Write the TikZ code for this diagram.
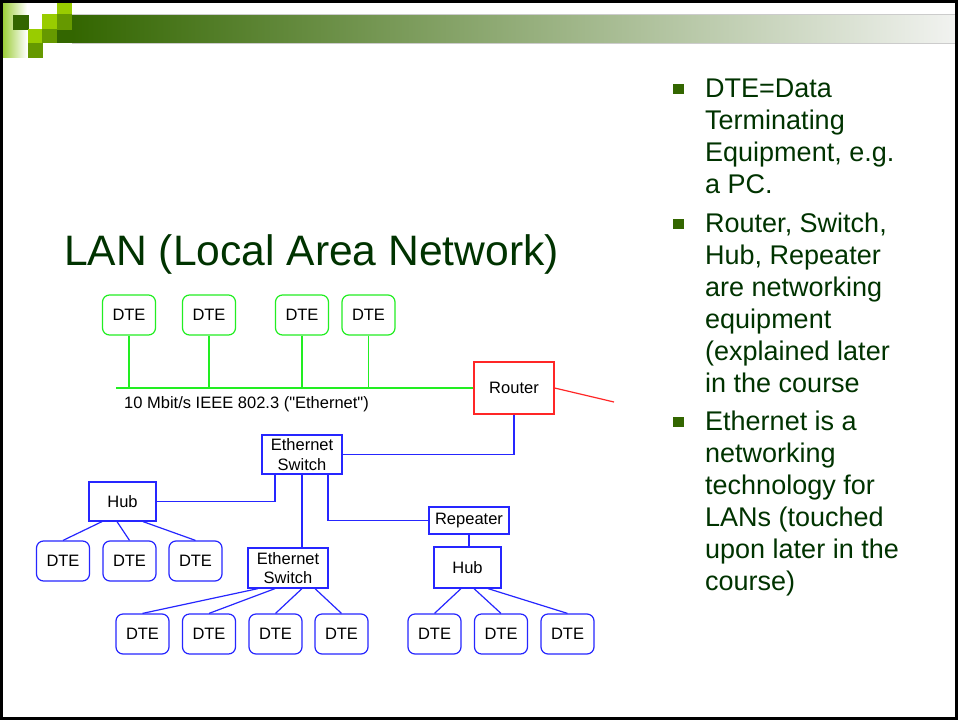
\documentclass[tikz,border=0pt]{standalone}
\usepackage{fontspec}
\setmainfont{Liberation Sans}
\newfontfamily\labfont{Liberation Sans}
\definecolor{tgreen}{HTML}{003300}
\definecolor{bgreen}{HTML}{336600}
\definecolor{lgreen}{HTML}{99CC00}
\definecolor{mgreen}{HTML}{669900}
\definecolor{stripg}{HTML}{99CC33}
\definecolor{midgray}{RGB}{170,180,164}
\definecolor{endgray}{RGB}{242,243,241}
\definecolor{netgreen}{HTML}{22EE22}
\definecolor{netblue}{HTML}{2626FF}
\definecolor{netred}{HTML}{FF2626}
\newcommand{\dfont}{\fontsize{16.5}{19.5}\selectfont}
\newcommand{\bfontx}{\fontsize{27}{32}\selectfont}
\tikzset{
  dte/.style={draw=netblue, line width=1.2pt, rounded corners=7pt, minimum width=53pt, minimum height=40pt, inner sep=0pt, font=\dfont},
  gdte/.style={dte, draw=netgreen},
  netbox/.style={draw=netblue, line width=1.2pt, inner sep=0pt, font=\dfont, align=center},
  bline/.style={draw=netblue, line width=1.2pt},
  gline/.style={draw=netgreen, line width=1.2pt},
  rline/.style={draw=netred, line width=1.2pt},
  bul/.style={anchor=base west, inner sep=0pt, text=tgreen, font=\bfontx},
  bulsq/.style={fill=bgreen, draw=none, minimum width=11pt, minimum height=10pt, inner sep=0pt}
}
\begin{document}
\begin{tikzpicture}[x=1pt,y=-1pt]
\useasboundingbox (0,0) rectangle (958,720);
\fill[white] (0,0) rectangle (958,720);
% header
\shade[left color=stripg, right color=white] (2,3) rectangle (27,57);
\shade[left color=bgreen, middle color=midgray, right color=endgray] (72,14) rectangle (958,43);
\draw[black!20, line width=0.8pt] (72,14) -- (958,14);
\draw[black!20, line width=0.8pt] (72,43) -- (958,43);
\fill[bgreen] (57,30) rectangle (72,43);
\fill[bgreen] (13,15) rectangle (29,30);
\fill[lgreen] (42,14) rectangle (57,29);
\fill[lgreen] (57,0) rectangle (72,14);
\fill[mgreen] (57,14) rectangle (72,30);
\fill[lgreen] (28,29) rectangle (42,43);
\fill[mgreen] (42,29) rectangle (57,43);
\fill[mgreen] (28,43) rectangle (43,58);
% title
\node[anchor=base west, inner sep=0pt, text=tgreen, font=\fontsize{42.6}{50}\selectfont] (title) at (64,265) {LAN (Local Area Network)};
% bullets
\node[bulsq] (sq1) at (678,89) {};
\node[bul] (b1a) at (705,97) {DTE=Data};
\node[bul] (b1b) at (705,129) {Terminating};
\node[bul] (b1c) at (705,161) {Equipment, e.g.};
\node[bul] (b1d) at (705,193) {a PC.};
\node[bulsq] (sq2) at (678,224) {};
\node[bul] (b2a) at (705,232) {Router, Switch,};
\node[bul] (b2b) at (705,264) {Hub, Repeater};
\node[bul] (b2c) at (705,296) {are networking};
\node[bul] (b2d) at (705,328) {equipment};
\node[bul] (b2e) at (705,360) {(explained later};
\node[bul] (b2f) at (705,392) {in the course};
\node[bulsq] (sq3) at (678,422) {};
\node[bul] (b3a) at (705,430) {Ethernet is a};
\node[bul] (b3b) at (705,462) {networking};
\node[bul] (b3c) at (705,494) {technology for};
\node[bul] (b3d) at (705,526) {LANs (touched};
\node[bul] (b3e) at (705,558) {upon later in the};
\node[bul] (b3f) at (705,590) {course)};
% top segment
\node[gdte] (t1) at (129,315) {DTE};
\node[gdte] (t2) at (209,315) {DTE};
\node[gdte] (t3) at (302,315) {DTE};
\node[gdte] (t4) at (368.5,315) {DTE};
\node[netbox, draw=netred, minimum width=80pt, minimum height=52pt] (r) at (514,388) {Router};
\coordinate (bus) at (116,388);
\coordinate (wan) at (614,402);
\draw[gline] (bus) -- (r.west);
\foreach \n in {t1,t2,t3,t4} \draw[gline] (\n.south) -- (\n.south |- bus);
\draw[rline] (r.east) -- (wan);
\node[anchor=base west, inner sep=0pt, font=\labfont\dfont] (buslabel) at (124,408) {10 Mbit/s IEEE 802.3 ("Ethernet")};
% switches etc.
\node[netbox, minimum width=80pt, minimum height=39pt] (sw1) at (302,454.5) {Ethernet\\Switch};
\node[netbox, minimum width=67pt, minimum height=39pt] (h1) at (122.5,501.5) {Hub};
\node[netbox, minimum width=80pt, minimum height=40pt] (sw2) at (288,568) {Ethernet\\Switch};
\node[netbox, minimum width=80pt, minimum height=27pt] (rep) at (469,520.5) {Repeater};
\node[netbox, minimum width=67pt, minimum height=41pt] (h2) at (467.5,567.5) {Hub};
\draw[bline] (r.south) |- (sw1.east);
\draw[bline] (h1.east) -| ([xshift=-27pt]sw1.south);
\draw[bline] (sw1.south) -- (sw1.south |- sw2.north);
\draw[bline] ([xshift=26pt]sw1.south) |- (rep.west);
\draw[bline] (rep.south) -- (rep.south |- h2.north);
% hub1 DTEs
\node[dte] (d1) at (63,561) {DTE};
\node[dte] (d2) at (129.5,561) {DTE};
\node[dte] (d3) at (195.5,561) {DTE};
\draw[bline] ([xshift=-20.5pt]h1.south) -- (d1.north);
\draw[bline] ([xshift=-5.5pt]h1.south) -- (d2.north);
\draw[bline] ([xshift=20.5pt]h1.south) -- (d3.north);
% switch2 DTEs
\node[dte] (e1) at (142.5,634) {DTE};
\node[dte] (e2) at (209,634) {DTE};
\node[dte] (e3) at (275.5,634) {DTE};
\node[dte] (e4) at (341.5,634) {DTE};
\draw[bline] ([xshift=-30pt]sw2.south) -- (e1.north);
\draw[bline] ([xshift=-13pt]sw2.south) -- (e2.north);
\draw[bline] ([xshift=14pt]sw2.south) -- (e3.north);
\draw[bline] ([xshift=27pt]sw2.south) -- (e4.north);
% hub2 DTEs
\node[dte] (f1) at (434.5,634) {DTE};
\node[dte] (f2) at (501,634) {DTE};
\node[dte] (f3) at (567.5,634) {DTE};
\draw[bline] ([xshift=-6.5pt]h2.south) -- (f1.north);
\draw[bline] ([xshift=6.5pt]h2.south) -- (f2.north);
\draw[bline] ([xshift=20.5pt]h2.south) -- (f3.north);
% frame
\draw[black, line width=2.6pt] (1.3,1.3) rectangle (956.7,718.7);
\end{tikzpicture}
\end{document}
